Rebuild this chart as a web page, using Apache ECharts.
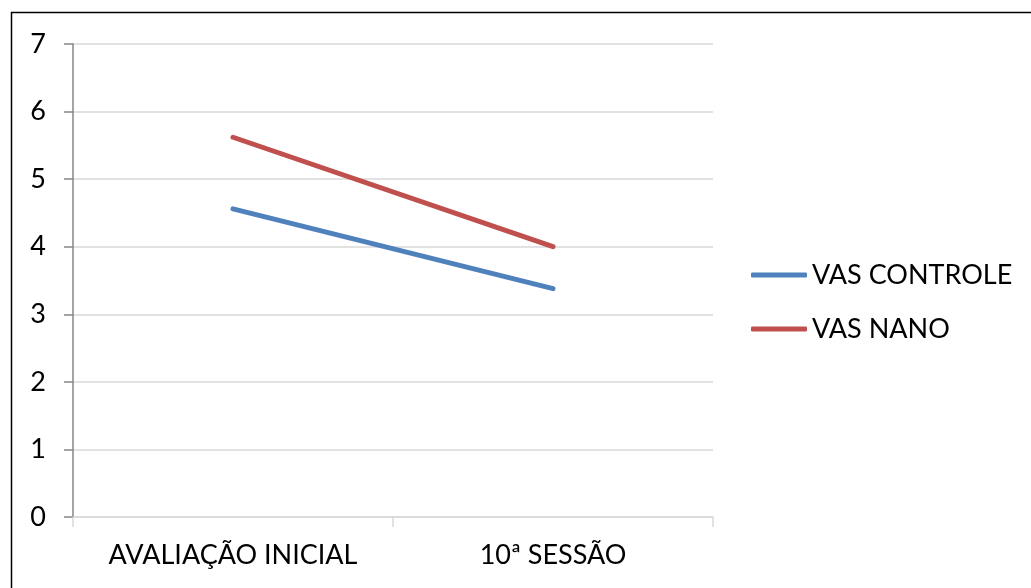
<!DOCTYPE html>
<html>
<head>
<meta charset="utf-8">
<style>
  html, body { margin: 0; padding: 0; background: #fff; }
  #chart { width: 1031px; height: 588px; }
</style>
<script src="https://cdn.jsdelivr.net/npm/echarts@6/dist/echarts.min.js"></script>
</head>
<body>
<div id="chart"></div>
<script>
// Categories and series values
const categories = ['AVALIAÇÃO INICIAL', '10ª SESSÃO'];
const vasControle = [4.56, 3.38];
const vasNano = [5.62, 4.0];
const yTicks = { min: 0, max: 7, interval: 1 };

const FONT = 'Lato, "Open Sans", sans-serif';
const chart = echarts.init(document.getElementById('chart'));

chart.setOption({
  animation: false,
  backgroundColor: '#ffffff',
  graphic: [{
    type: 'rect',
    left: 9, top: 10,
    shape: { width: 1060, height: 620 },
    style: { fill: 'none', stroke: '#000', lineWidth: 1.5 },
    silent: true
  }],
  grid: { left: 73, right: 318, top: 44, bottom: 71 },
  legend: {
    orient: 'vertical',
    left: 746, top: 254,
    itemWidth: 56, itemHeight: 5,
    itemGap: 22,
    icon: 'roundRect',
    textStyle: { fontFamily: FONT, fontSize: 27, color: '#000', lineHeight: 32 },
    data: ['VAS CONTROLE', 'VAS NANO']
  },
  xAxis: {
    type: 'category',
    data: categories,
    boundaryGap: true,
    axisLine: { lineStyle: { color: '#d9d9d9', width: 1.5 } },
    axisTick: { show: true, interval: 0, length: 10, lineStyle: { color: '#d9d9d9', width: 1.5 } },
    axisLabel: { interval: 0, hideOverlap: false, fontFamily: FONT, fontSize: 27, color: '#000', margin: 25 },
    splitLine: { show: false }
  },
  yAxis: {
    type: 'value',
    min: yTicks.min, max: yTicks.max, interval: yTicks.interval,
    axisLine: { show: true, lineStyle: { color: '#868686', width: 1.5 } },
    axisTick: { show: true, length: 9, lineStyle: { color: '#868686', width: 1.5 } },
    axisLabel: { fontFamily: FONT, fontSize: 27, color: '#000', margin: 27 },
    splitLine: { show: true, lineStyle: { color: '#d9d9d9', width: 1.5 } }
  },
  series: [
    {
      name: 'VAS CONTROLE', type: 'line', data: vasControle,
      symbol: 'none', color: '#4f81bd',
      lineStyle: { width: 5, cap: 'round', color: '#4f81bd' }
    },
    {
      name: 'VAS NANO', type: 'line', data: vasNano,
      symbol: 'none', color: '#c0504d',
      lineStyle: { width: 5, cap: 'round', color: '#c0504d' }
    }
  ]
});
</script>
</body>
</html>
